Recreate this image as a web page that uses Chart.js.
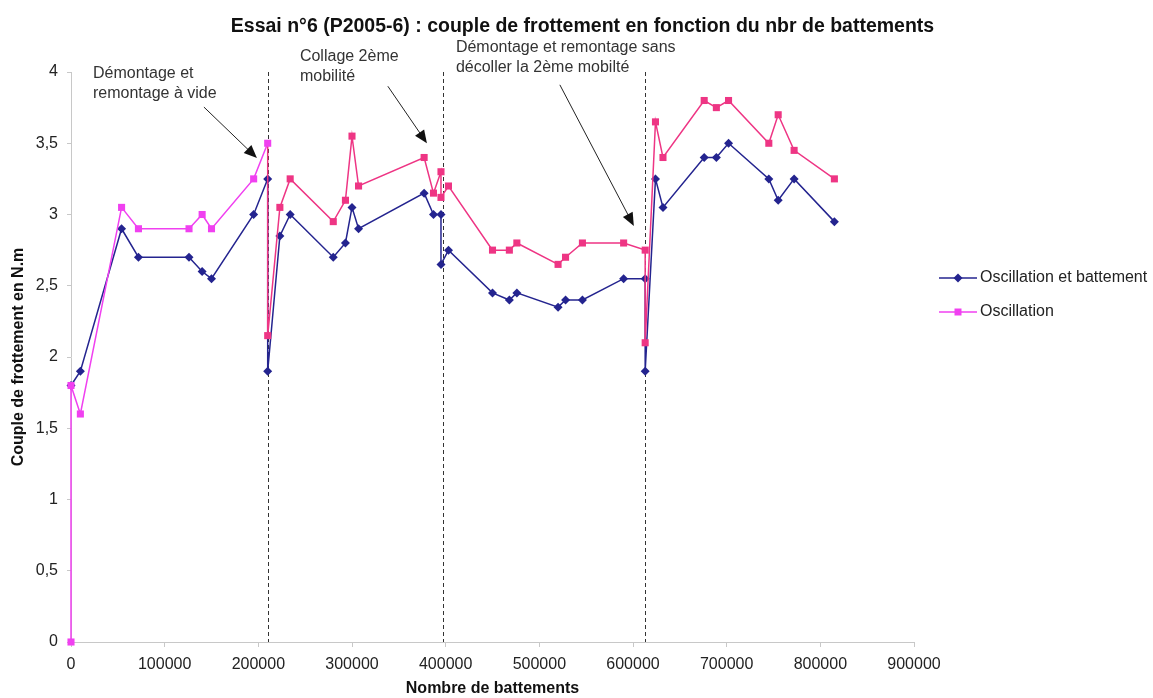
<!DOCTYPE html>
<html>
<head>
<meta charset="utf-8">
<script src="https://cdn.jsdelivr.net/npm/chart.js@4.4.1/dist/chart.umd.min.js"></script>
<style>
  html, body { margin: 0; padding: 0; background: #fff; }
</style>
</head>
<body>
<canvas id="frottementChart" width="1153" height="698"></canvas>
<script>
// Oscillation et battement (losanges bleus)
const battementsOB = [0, 10000, 54000, 72000, 126000, 140000, 150000, 195000, 210000, 210000,
  223000, 234000, 280000, 293000, 300000, 307000, 377000, 387000, 395000, 395000,
  403000, 450000, 468000, 476000, 520000, 528000, 546000, 590000, 613000, 613000,
  624000, 632000, 676000, 689000, 702000, 745000, 755000, 772000, 815000];
const coupleOB = [1.8, 1.9, 2.9, 2.7, 2.7, 2.6, 2.55, 3.0, 3.25, 1.9,
  2.85, 3.0, 2.7, 2.8, 3.05, 2.9, 3.15, 3.0, 3.0, 2.65,
  2.75, 2.45, 2.4, 2.45, 2.35, 2.4, 2.4, 2.55, 2.55, 1.9,
  3.25, 3.05, 3.4, 3.4, 3.5, 3.25, 3.1, 3.25, 2.95];

// Oscillation (carrés roses)
const battementsO = [0, 0, 10000, 54000, 72000, 126000, 140000, 150000, 195000, 210000, 210000,
  223000, 234000, 280000, 293000, 300000, 307000, 377000, 387000, 395000, 395000,
  403000, 450000, 468000, 476000, 520000, 528000, 546000, 590000, 613000, 613000,
  624000, 632000, 676000, 689000, 702000, 745000, 755000, 772000, 815000];
const coupleO = [0, 1.8, 1.6, 3.05, 2.9, 2.9, 3.0, 2.9, 3.25, 3.5, 2.15,
  3.05, 3.25, 2.95, 3.1, 3.55, 3.2, 3.4, 3.15, 3.3, 3.12,
  3.2, 2.75, 2.75, 2.8, 2.65, 2.7, 2.8, 2.8, 2.75, 2.1,
  3.65, 3.4, 3.8, 3.75, 3.8, 3.5, 3.7, 3.45, 3.25];

// démontages (lignes pointillées verticales)
const demontages = [210000, 397000, 613000];

// annotations (en coordonnées du graphique)
const notes = [
  { lines: ['Démontage et', 'remontage à vide'], x: 23500, y: [3.99, 3.85],
    from: [141900, 3.754], to: [198500, 3.396] },
  { lines: ['Collage 2ème', 'mobilité'], x: 244400, y: [4.105, 3.97],
    from: [338300, 3.90], to: [380000, 3.50] },
  { lines: ['Démontage et remontage sans', 'décoller la 2ème mobilté'], x: 410900, y: [4.17, 4.03],
    from: [521900, 3.91], to: [600900, 2.92] }
];

const FONT = "'Liberation Sans', Arial, sans-serif";
const BLEU = '#24248f';
const MAGENTA = '#f040f0';
const ROSE = '#ee3584';
const finPremierEssai = battementsO.lastIndexOf(demontages[0]);

const annotationsPlugin = {
  id: 'annotations',
  beforeDatasetsDraw(chart) {
    const {ctx, chartArea, scales} = chart;
    ctx.save();
    ctx.strokeStyle = '#333';
    ctx.lineWidth = 1;
    ctx.setLineDash([4, 3]);
    demontages.forEach(v => {
      const x = Math.round(scales.x.getPixelForValue(v)) + 0.5;
      ctx.beginPath();
      ctx.moveTo(x, chartArea.top);
      ctx.lineTo(x, chartArea.bottom);
      ctx.stroke();
    });
    ctx.restore();
  },
  afterDatasetsDraw(chart) {
    const {ctx, scales} = chart;
    ctx.save();
    // titre
    ctx.fillStyle = '#111';
    ctx.font = 'bold 19.5px ' + FONT;
    ctx.textAlign = 'center';
    ctx.textBaseline = 'middle';
    ctx.fillText('Essai n°6 (P2005-6) : couple de frottement en fonction du nbr de battements', chart.width / 2 + 6, 27);

    // notes + flèches
    ctx.font = '16px ' + FONT;
    ctx.textAlign = 'left';
    ctx.fillStyle = '#333';
    notes.forEach(n => {
      n.lines.forEach((t, i) => {
        ctx.fillText(t, scales.x.getPixelForValue(n.x), scales.y.getPixelForValue(n.y[i]));
      });
      const x1 = scales.x.getPixelForValue(n.from[0]), y1 = scales.y.getPixelForValue(n.from[1]);
      const x2 = scales.x.getPixelForValue(n.to[0]), y2 = scales.y.getPixelForValue(n.to[1]);
      const a = Math.atan2(y2 - y1, x2 - x1);
      ctx.strokeStyle = '#222';
      ctx.lineWidth = 1;
      ctx.beginPath();
      ctx.moveTo(x1, y1);
      ctx.lineTo(x2 - 10 * Math.cos(a), y2 - 10 * Math.sin(a));
      ctx.stroke();
      ctx.fillStyle = '#111';
      ctx.beginPath();
      ctx.moveTo(x2, y2);
      ctx.lineTo(x2 - 13 * Math.cos(a) + 5.5 * Math.sin(a), y2 - 13 * Math.sin(a) - 5.5 * Math.cos(a));
      ctx.lineTo(x2 - 13 * Math.cos(a) - 5.5 * Math.sin(a), y2 - 13 * Math.sin(a) + 5.5 * Math.cos(a));
      ctx.closePath();
      ctx.fill();
      ctx.fillStyle = '#333';
    });

    // légende
    const lx = chart.chartArea.right + 25;
    const rows = [chart.chartArea.top + 206, chart.chartArea.top + 240];
    chart.data.datasets.forEach((ds, i) => {
      const y = rows[i];
      const col = i === 0 ? BLEU : MAGENTA;
      ctx.strokeStyle = col;
      ctx.lineWidth = 1.5;
      ctx.beginPath();
      ctx.moveTo(lx, y);
      ctx.lineTo(lx + 38, y);
      ctx.stroke();
      ctx.fillStyle = col;
      ctx.beginPath();
      if (i === 0) {
        ctx.moveTo(lx + 19, y - 4.5); ctx.lineTo(lx + 23.5, y);
        ctx.lineTo(lx + 19, y + 4.5); ctx.lineTo(lx + 14.5, y);
      } else {
        ctx.rect(lx + 15.5, y - 3.5, 7, 7);
      }
      ctx.fill();
      ctx.fillStyle = '#222';
      ctx.font = '16px ' + FONT;
      ctx.textAlign = 'left';
      ctx.fillText(ds.label, lx + 41, y);
    });
    ctx.restore();
  }
};

const ctx = document.getElementById('frottementChart').getContext('2d');

const config = {
  type: 'line',
  data: {
    datasets: [{
      label: 'Oscillation et battement',
      data: battementsOB.map((x, i) => ({ x: x, y: coupleOB[i] })),
      order: 2,
      borderColor: BLEU,
      backgroundColor: BLEU,
      borderWidth: 1.5,
      clip: false,
      pointStyle: 'rectRot',
      pointRadius: 4.5,
      pointBorderWidth: 0,
      pointBackgroundColor: BLEU
    }, {
      label: 'Oscillation',
      data: battementsO.map((x, i) => ({ x: x, y: coupleO[i] })),
      order: 1,
      borderColor: MAGENTA,
      backgroundColor: MAGENTA,
      borderWidth: 1.5,
      clip: false,
      segment: {
        borderColor: c => c.p1DataIndex < finPremierEssai ? MAGENTA : ROSE
      },
      pointStyle: 'rect',
      pointRadius: 5,
      pointBorderWidth: 0,
      pointBackgroundColor: c => c.dataIndex < finPremierEssai ? MAGENTA : ROSE
    }]
  },
  options: {
    responsive: false,
    animation: false,
    layout: { padding: { top: 72, right: 239, left: 0, bottom: 0 } },
    plugins: {
      legend: { display: false },
      title: { display: false },
      tooltip: { enabled: false }
    },
    scales: {
      x: {
        type: 'linear',
        min: 0,
        max: 900000,
        afterFit: s => { s.height = 56; },
        ticks: {
          stepSize: 100000,
          callback: v => String(v),
          font: { family: FONT, size: 16 },
          color: '#222',
          padding: 8,
          maxRotation: 0
        },
        grid: { drawOnChartArea: false, tickLength: 5, color: '#c8c8c8' },
        border: { color: '#c8c8c8' },
        title: {
          display: true,
          text: 'Nombre de battements',
          font: { family: FONT, size: 16, weight: 'bold' },
          color: '#111',
          padding: { top: 0, bottom: 0 }
        }
      },
      y: {
        min: 0,
        max: 4,
        afterFit: s => { s.width = 71; },
        ticks: {
          stepSize: 0.5,
          callback: v => String(v).replace('.', ','),
          font: { family: FONT, size: 16 },
          color: '#222',
          padding: 9
        },
        grid: { drawOnChartArea: false, tickLength: 4, color: '#c8c8c8' },
        border: { color: '#c8c8c8' },
        title: {
          display: true,
          text: 'Couple de frottement en N.m',
          font: { family: FONT, size: 16, weight: 'bold' },
          color: '#111',
          padding: { top: 9, bottom: 0 }
        }
      }
    }
  },
  plugins: [annotationsPlugin]
};

const frottementChart = new Chart(ctx, config);
</script>
</body>
</html>
